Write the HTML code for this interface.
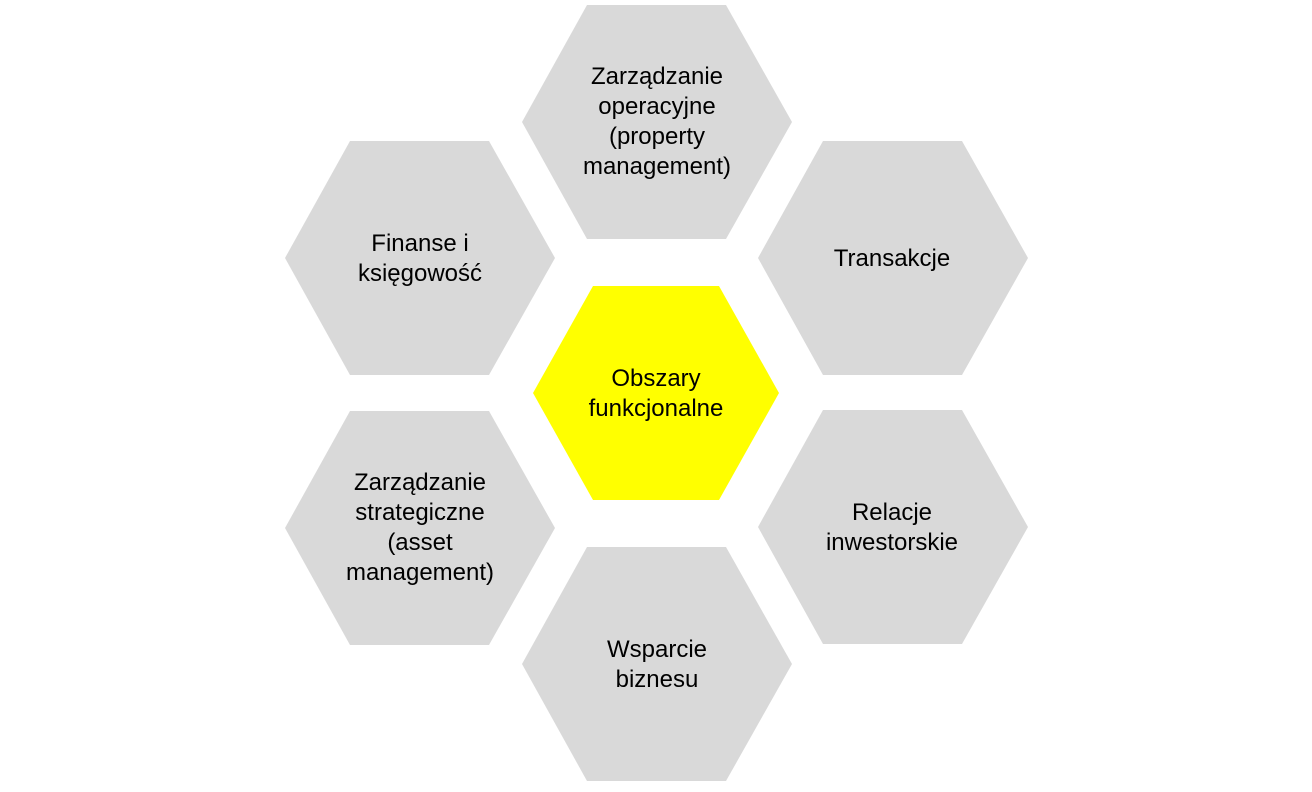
<!DOCTYPE html>
<html><head><style>
body{margin:0;width:1312px;height:787px;background:#fff;overflow:hidden}
svg text{font-family:"Liberation Sans",sans-serif;font-size:24px;fill:#000;text-anchor:middle}
</style></head><body>
<svg width="1312" height="787" xmlns="http://www.w3.org/2000/svg">
<defs><polygon id="h" points="65,0 204,0 270,117 204,234 65,234 0,117" fill="#d9d9d9"/></defs>
<use href="#h" x="522" y="5"/>
<use href="#h" x="758" y="141"/>
<use href="#h" x="285" y="141"/>
<use href="#h" x="285" y="411"/>
<use href="#h" x="758" y="410"/>
<use href="#h" x="522" y="547"/>
<polygon points="593,286 719,286 779,393 719,500 593,500 533,393" fill="#ffff00"/>
<text x="657" y="84">Zarządzanie</text>
<text x="657" y="114">operacyjne</text>
<text x="657" y="144">(property</text>
<text x="657" y="174">management)</text>
<text x="892" y="266">Transakcje</text>
<text x="420" y="251">Finanse i</text>
<text x="420" y="281">księgowość</text>
<text x="656" y="386">Obszary</text>
<text x="656" y="416">funkcjonalne</text>
<text x="420" y="490">Zarządzanie</text>
<text x="420" y="520">strategiczne</text>
<text x="420" y="550">(asset</text>
<text x="420" y="580">management)</text>
<text x="892" y="520">Relacje</text>
<text x="892" y="550">inwestorskie</text>
<text x="657" y="657">Wsparcie</text>
<text x="657" y="687">biznesu</text>
</svg>
</body></html>
